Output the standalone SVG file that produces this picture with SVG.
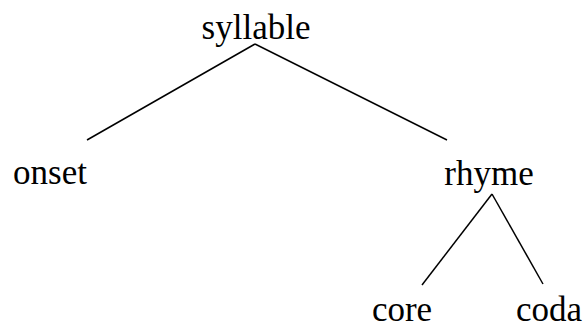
<svg xmlns="http://www.w3.org/2000/svg" width="587" height="329" viewBox="0 0 587 329">
<style>
text{font-family:"Liberation Serif","Times New Roman",serif;font-size:35px;fill:#000;text-anchor:middle}
line{stroke:#000;stroke-width:1.5}
</style>
<rect width="587" height="329" fill="#fff"/>
<g id="connectors">
<line x1="255" y1="44" x2="87" y2="140"/>
<line x1="255" y1="44" x2="447" y2="140"/>
<line x1="492" y1="194" x2="422" y2="285"/>
<line x1="492" y1="194" x2="543" y2="284"/>
</g>
<g id="syllable"><text x="256" y="39">syllable</text></g>
<g id="onset"><text x="50" y="184">onset</text></g>
<g id="rhyme"><text x="489" y="185">rhyme</text></g>
<g id="core"><text x="402" y="321">core</text></g>
<g id="coda"><text x="549" y="321">coda</text></g>
</svg>
